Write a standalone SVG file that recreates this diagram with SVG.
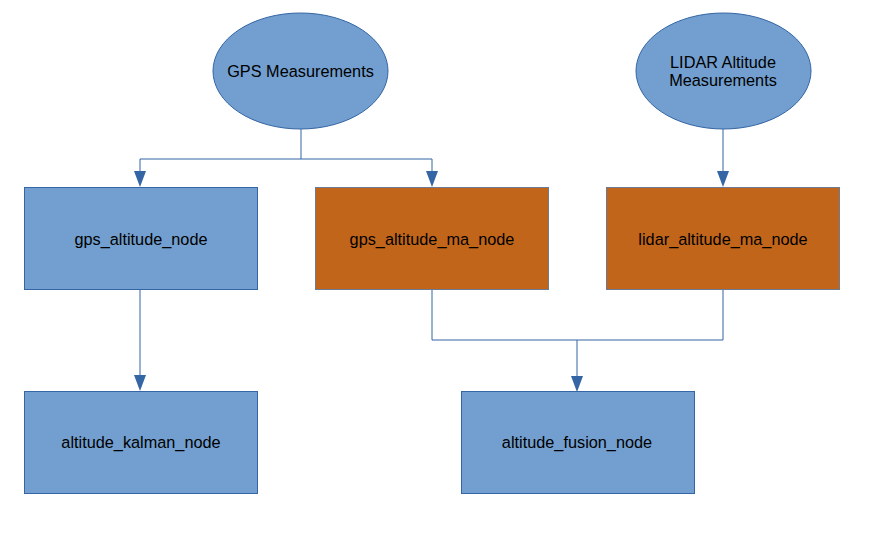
<svg xmlns="http://www.w3.org/2000/svg" width="890" height="536" viewBox="0 0 890 536">
<defs>
<style>
.b{fill:#729fcf;stroke:#3465a4;stroke-width:1}
.o{fill:#c0651a;stroke:#6c7a94;stroke-width:1}
.t{font-family:"Liberation Sans",Arial,sans-serif;font-size:16.3px;fill:#000;text-anchor:middle}
.c{fill:none;stroke:#3465a4;stroke-width:1}
.h{fill:#3465a4}
</style>
</defs>
<rect width="890" height="536" fill="#fff"/>
<g id="connectors">
<path class="c" d="M301,129 V159 H140 V171"/>
<path class="h" d="M134,171 L146,171 L140,187 Z"/>
<path class="c" d="M301,159 H432 V171"/>
<path class="h" d="M426,171 L438,171 L432,187 Z"/>
<path class="c" d="M723,129 V171"/>
<path class="h" d="M717,171 L729,171 L723,187 Z"/>
<path class="c" d="M140,290 V375"/>
<path class="h" d="M134,375 L146,375 L140,391 Z"/>
<path class="c" d="M432,290 V340 H723 V290"/>
<path class="c" d="M577,340 V376"/>
<path class="h" d="M571,376 L583,376 L577,392 Z"/>
</g>
<g id="gps_measurements">
<ellipse class="b" cx="300.5" cy="71" rx="87.5" ry="58"/>
<text class="t" x="300.5" y="77">GPS Measurements</text>
</g>
<g id="lidar_measurements">
<ellipse class="b" cx="723.5" cy="71" rx="87.5" ry="58"/>
<text class="t" x="723" y="68">LIDAR Altitude</text>
<text class="t" x="723" y="86">Measurements</text>
</g>
<g id="gps_altitude_node">
<rect class="b" x="24.5" y="187.5" width="233" height="102"/>
<text class="t" x="141" y="245">gps_altitude_node</text>
</g>
<g id="gps_altitude_ma_node">
<rect class="o" x="315.5" y="187.5" width="233" height="102"/>
<text class="t" x="432" y="245">gps_altitude_ma_node</text>
</g>
<g id="lidar_altitude_ma_node">
<rect class="o" x="606.5" y="187.5" width="233" height="102"/>
<text class="t" x="723" y="245">lidar_altitude_ma_node</text>
</g>
<g id="altitude_kalman_node">
<rect class="b" x="24.5" y="391.5" width="233" height="102"/>
<text class="t" x="141" y="448">altitude_kalman_node</text>
</g>
<g id="altitude_fusion_node">
<rect class="b" x="461.5" y="391.5" width="233" height="102"/>
<text class="t" x="577" y="448">altitude_fusion_node</text>
</g>
</svg>
